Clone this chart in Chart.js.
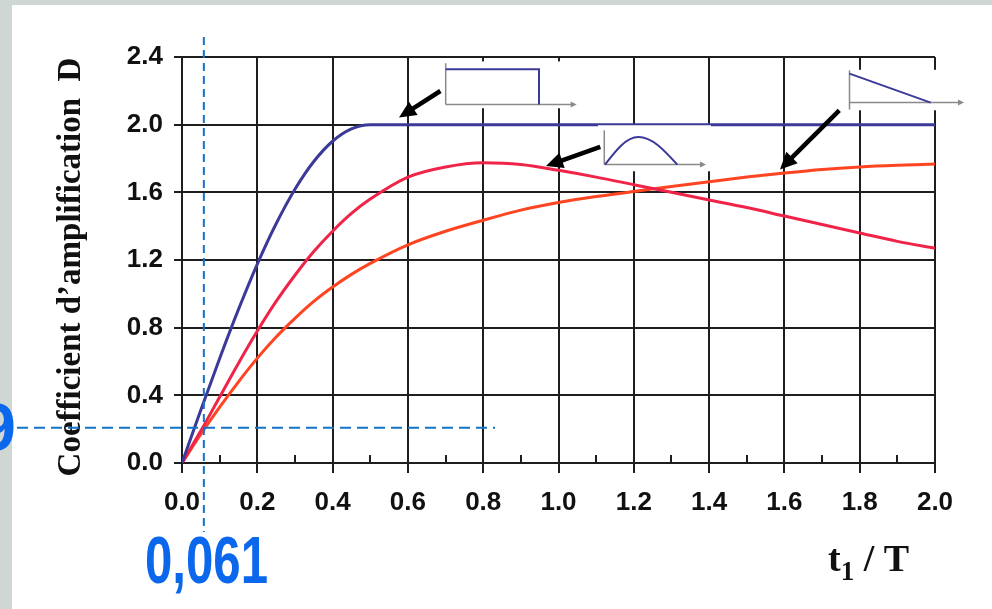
<!DOCTYPE html>
<html>
<head>
<meta charset="utf-8">
<title>Coefficient d'amplification D</title>
<script src="https://cdn.jsdelivr.net/npm/chart.js@4.4.1/dist/chart.umd.min.js"></script>
<style>
  html, body { margin: 0; padding: 0; background: #cfd7d4; }
  canvas { display: block; }
</style>
</head>
<body>
<canvas id="chart" width="992" height="609"></canvas>
<script>
const tRatio = [0, 0.05, 0.1, 0.15, 0.2, 0.25, 0.3, 0.35, 0.4, 0.45, 0.5,
                0.6, 0.7, 0.8, 0.9, 1.0, 1.1, 1.2, 1.3, 1.4, 1.5, 1.6, 1.7, 1.8, 1.9, 2.0];

// rectangular pulse
const rectPulse = [0, 0.313, 0.618, 0.908, 1.176, 1.414, 1.618, 1.782, 1.902, 1.975, 2.0,
                   2.0, 2.0, 2.0, 2.0, 2.0, 2.0, 2.0, 2.0, 2.0, 2.0, 2.0, 2.0, 2.0, 2.0, 2.0];
// half-sine pulse
const sinePulse = [0, 0.19, 0.39, 0.59, 0.78, 0.955, 1.11, 1.25, 1.37, 1.475, 1.56,
                   1.69, 1.75, 1.775, 1.765, 1.73, 1.69, 1.645, 1.60, 1.555, 1.51, 1.46, 1.41, 1.36, 1.31, 1.27];
// decreasing triangular pulse
const trianglePulse = [0, 0.17, 0.33, 0.48, 0.62, 0.745, 0.855, 0.955, 1.04, 1.115, 1.18,
                       1.29, 1.37, 1.435, 1.495, 1.54, 1.575, 1.605, 1.635, 1.663, 1.69, 1.714, 1.735, 1.75, 1.76, 1.767];

const xTicks = [0, 0.2, 0.4, 0.6, 0.8, 1.0, 1.2, 1.4, 1.6, 1.8, 2.0];
const xMinorTicks = [0.1, 0.3, 0.5, 0.7, 0.9, 1.1, 1.3, 1.5, 1.7, 1.9];
const yTicks = [0, 0.4, 0.8, 1.2, 1.6, 2.0, 2.4];

// the blue reading lines drawn over the chart
const readX = 0.058;
const readY = 0.2085;

const gridColor = '#1e1e1e';
const tickFont = { family: '"Liberation Sans", Arial, sans-serif', size: 26, weight: 'bold' };

// small pulse pictures, in data units
const insets = [
    { box: [0.6853, 2.374, 1.0571, 2.097], origin: [0.7004, 2.119], top: 2.363, bottom: 2.119, end: 1.0483,
      kind: 'rect', shape: [[0.7004, 2.327], [0.9482, 2.327], [0.9482, 2.119]] },
    { box: [1.1049, 1.9965, 1.4050, 1.7247], origin: [1.1216, 1.764], top: 1.967, bottom: 1.764, end: 1.3918,
      kind: 'sine', shape: [[1.1235, 1.764], [1.3155, 1.764], 0.163] },
    { box: [1.7570, 2.3243, 2.0823, 2.0850], origin: [1.7729, 2.1305], top: 2.3213, bottom: 2.0892, end: 2.077,
      kind: 'line', shape: [[1.7729, 2.3018], [1.9886, 2.1305]] }
];

// black arrows: tail then tip, in data units
const arrows = [
    [[0.6863, 2.199], [0.5764, 2.042]],
    [[1.111, 1.868], [0.9668, 1.756]],
    [[1.7458, 2.085], [1.5883, 1.735]]
];

function drawArrow(ctx, x1, y1, x2, y2, width, headLen, headW, color) {
    const a = Math.atan2(y2 - y1, x2 - x1);
    const bx = x2 - headLen * Math.cos(a);
    const by = y2 - headLen * Math.sin(a);
    ctx.strokeStyle = color;
    ctx.fillStyle = color;
    ctx.lineWidth = width;
    ctx.beginPath();
    ctx.moveTo(x1, y1);
    ctx.lineTo(bx + 2 * Math.cos(a), by + 2 * Math.sin(a));
    ctx.stroke();
    ctx.beginPath();
    ctx.moveTo(x2, y2);
    ctx.lineTo(bx + headW * Math.sin(a), by - headW * Math.cos(a));
    ctx.lineTo(bx - headW * Math.sin(a), by + headW * Math.cos(a));
    ctx.closePath();
    ctx.fill();
}

const backdrop = {
    id: 'backdrop',
    beforeDraw(chart) {
        const ctx = chart.ctx;
        ctx.save();
        ctx.fillStyle = '#cfd7d4';
        ctx.fillRect(0, 0, chart.width, chart.height);
        ctx.fillStyle = '#ffffff';
        ctx.fillRect(12, 5, chart.width - 12, chart.height - 5);
        ctx.restore();
    }
};

const minorTicks = {
    id: 'minorTicks',
    beforeDatasetsDraw(chart) {
        const ctx = chart.ctx;
        const x = chart.scales.x;
        const bottom = chart.chartArea.bottom;
        ctx.save();
        ctx.strokeStyle = gridColor;
        ctx.lineWidth = 2;
        xMinorTicks.forEach(v => {
            const px = Math.round(x.getPixelForValue(v));
            ctx.beginPath();
            ctx.moveTo(px, bottom);
            ctx.lineTo(px, bottom - 8);
            ctx.stroke();
        });
        ctx.restore();
    }
};

const pictures = {
    id: 'pictures',
    afterDatasetsDraw(chart) {
        const ctx = chart.ctx;
        const sx = v => chart.scales.x.getPixelForValue(v);
        const sy = v => chart.scales.y.getPixelForValue(v);
        ctx.save();
        insets.forEach(ins => {
            const [x0, y0, x1, y1] = ins.box;
            ctx.fillStyle = '#ffffff';
            ctx.fillRect(sx(x0), sy(y0), sx(x1) - sx(x0), sy(y1) - sy(y0));

            const ox = sx(ins.origin[0]);
            const oy = sy(ins.origin[1]);
            const ex = sx(ins.end);
            ctx.strokeStyle = '#8a8a8a';
            ctx.fillStyle = '#8a8a8a';
            ctx.lineWidth = 1.5;
            ctx.beginPath();
            ctx.moveTo(ox, sy(ins.top));
            ctx.lineTo(ox, sy(ins.bottom));
            ctx.moveTo(ox, oy);
            ctx.lineTo(ex - 4, oy);
            ctx.stroke();
            ctx.beginPath();
            ctx.moveTo(ex, oy);
            ctx.lineTo(ex - 6, oy - 3);
            ctx.lineTo(ex - 6, oy + 3);
            ctx.closePath();
            ctx.fill();

            ctx.strokeStyle = '#3c3a98';
            ctx.lineWidth = 2;
            ctx.beginPath();
            if (ins.kind === 'rect') {
                ctx.moveTo(ox, sy(ins.shape[0][1]));
                ins.shape.forEach(p => ctx.lineTo(sx(p[0]), sy(p[1])));
            } else if (ins.kind === 'sine') {
                const a = sx(ins.shape[0][0]);
                const b = sx(ins.shape[1][0]);
                const base = sy(ins.shape[0][1]);
                const h = base - sy(ins.shape[0][1] + ins.shape[2]);
                const m = a + (b - a) * 0.46;
                const w1 = m - a, w2 = b - m;
                ctx.moveTo(a, base);
                ctx.bezierCurveTo(a + w1 * 0.33, base - h * 0.52, a + w1 * 0.64, base - h, m, base - h);
                ctx.bezierCurveTo(m + w2 * 0.36, base - h, m + w2 * 0.67, base - h * 0.52, b, base);
            } else {
                ctx.moveTo(sx(ins.shape[0][0]), sy(ins.shape[0][1]));
                ctx.lineTo(sx(ins.shape[1][0]), sy(ins.shape[1][1]));
            }
            ctx.stroke();
        });

        arrows.forEach(([t, h]) => {
            drawArrow(ctx, sx(t[0]), sy(t[1]), sx(h[0]), sy(h[1]), 4.5, 17, 8, '#000000');
        });
        ctx.restore();
    }
};

const labels = {
    id: 'labels',
    afterDraw(chart) {
        const ctx = chart.ctx;
        const sx = v => chart.scales.x.getPixelForValue(v);
        const sy = v => chart.scales.y.getPixelForValue(v);
        ctx.save();

        // y axis title
        ctx.fillStyle = '#111111';
        ctx.font = 'bold 33px "Liberation Serif", "DejaVu Serif", serif';
        ctx.textAlign = 'center';
        ctx.textBaseline = 'alphabetic';
        ctx.save();
        ctx.translate(80, 267);
        ctx.rotate(-Math.PI / 2);
        ctx.fillText('Coefficient d\u2019amplification  D', 0, 0);
        ctx.restore();

        // x axis title  t1 / T
        ctx.textAlign = 'left';
        let px = 828;
        ctx.font = 'bold 38px "Liberation Serif", "DejaVu Serif", serif';
        ctx.fillText('t', px, 571);
        px += ctx.measureText('t').width;
        ctx.font = 'bold 27px "Liberation Serif", "DejaVu Serif", serif';
        ctx.fillText('1', px, 580);
        px += ctx.measureText('1').width;
        ctx.font = 'bold 38px "Liberation Serif", "DejaVu Serif", serif';
        ctx.fillText(' / T', px, 571);

        // blue reading lines
        ctx.strokeStyle = '#1572c9';
        ctx.lineWidth = 2;
        ctx.setLineDash([8, 5]);
        ctx.beginPath();
        ctx.moveTo(sx(readX), 37);
        ctx.lineTo(sx(readX), 532);
        ctx.stroke();
        ctx.setLineDash([11, 6]);
        ctx.beginPath();
        ctx.moveTo(0, sy(readY));
        ctx.lineTo(495, sy(readY));
        ctx.stroke();
        ctx.setLineDash([]);

        ctx.fillStyle = '#0b67ec';
        ctx.font = 'bold 66px "Liberation Sans", Arial, sans-serif';
        ctx.textAlign = 'left';
        ctx.fillText('0,061', 145, 583, 123);
        ctx.textAlign = 'right';
        ctx.fillText('9', 16, 450);
        ctx.restore();
    }
};

new Chart(document.getElementById('chart'), {
    type: 'line',
    data: {
        datasets: [
            { label: 'Rectangle', data: tRatio.map((t, i) => ({ x: t, y: rectPulse[i] })), borderColor: '#3c3a98' },
            { label: 'Demi-sinus', data: tRatio.map((t, i) => ({ x: t, y: sinePulse[i] })), borderColor: '#f02448' },
            { label: 'Triangle', data: tRatio.map((t, i) => ({ x: t, y: trianglePulse[i] })), borderColor: '#ff4422' }
        ]
    },
    options: {
        responsive: false,
        animation: false,
        events: [],
        layout: { padding: { top: 57, right: 57, bottom: 0, left: 0 } },
        elements: {
            point: { radius: 0 },
            line: { borderWidth: 3, cubicInterpolationMode: 'monotone', fill: false }
        },
        plugins: { legend: { display: false }, tooltip: { enabled: false } },
        scales: {
            x: {
                type: 'linear',
                min: 0,
                max: 2,
                afterBuildTicks: s => { s.ticks = xTicks.map(v => ({ value: v })); },
                afterFit: s => { s.height = 146; },
                grid: { color: gridColor, lineWidth: 2, tickLength: 10 },
                border: { color: gridColor, width: 2 },
                ticks: { color: '#111111', font: tickFont, padding: 14, maxRotation: 0, autoSkip: false,
                         callback: v => Number(v).toFixed(1) }
            },
            y: {
                type: 'linear',
                min: 0,
                max: 2.4,
                afterBuildTicks: s => { s.ticks = yTicks.map(v => ({ value: v })); },
                afterFit: s => { s.width = 182; },
                grid: { color: gridColor, lineWidth: 2, tickLength: 8 },
                border: { color: gridColor, width: 2 },
                ticks: { color: '#111111', font: tickFont, padding: 11,
                         callback: v => Number(v).toFixed(1) }
            }
        }
    },
    plugins: [backdrop, minorTicks, pictures, labels]
});
</script>
</body>
</html>
